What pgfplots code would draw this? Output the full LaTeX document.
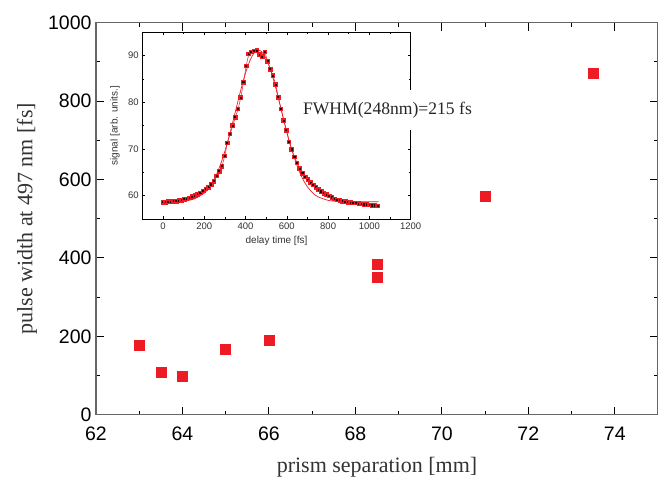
\documentclass[border=0pt]{standalone}
\usepackage{fontspec}
\setmainfont{Liberation Serif}
\setsansfont{Liberation Sans}
\usepackage{pgfplots}
\pgfplotsset{compat=1.18}
\usetikzlibrary{calc}
\definecolor{ptred}{RGB}{237,28,36}

\begin{document}
\begin{tikzpicture}
% main plot: pulse width vs prism separation
\begin{axis}[
  name=main,
  scale only axis,
  width=562pt, height=392pt,
  xmin=62, xmax=75, ymin=0, ymax=1000,
  xtick={62,64,...,74}, ytick={0,200,...,1000},
  minor x tick num=1, minor y tick num=1,
  tick align=inside,
  major tick length=8pt, minor tick length=4pt,
  axis line style={black!60, line width=1.1pt},
  tick style={black, line width=0.9pt},
  ticklabel style={font=\fontsize{19.5}{22}\sffamily},
  xticklabel style={yshift=-9pt},
  yticklabel style={xshift=-1pt},
  /pgf/number format/assume math mode=true,
  /pgf/number format/set thousands separator={},
  xlabel={prism separation [mm]},
  ylabel={pulse width at 497 nm [fs]},
  label style={font=\fontsize{22}{26}\selectfont, text=black!80},
  xlabel style={at={(axis description cs:0.5,-0.1327)}, anchor=center},
  ylabel style={at={(axis description cs:-0.1228,0.5)}, anchor=center},
]
\addplot[only marks, mark=square*, mark size=5pt, color=ptred] coordinates {
  (63,177) (63.5,109) (64,98) (65,166) (66,190)
  (68.5,383) (68.5,350) (71,558) (73.5,872)
};
\end{axis}

% inset: autocorrelation trace
\begin{axis}[
  at={($(main.south west)+(46.3pt,195.7pt)$)}, anchor=south west,
  scale only axis,
  width=268.4pt, height=186.6pt,
  xmin=-100, xmax=1200, ymin=55, ymax=95,
  xtick={0,200,...,1200}, ytick={60,70,80,90},
  minor x tick num=1, minor y tick num=1,
  tick align=inside,
  major tick length=3pt, minor tick length=1.8pt,
  axis background/.style={fill=white},
  axis line style={black, line width=0.7pt},
  tick style={black, line width=0.6pt},
  ticklabel style={font=\fontsize{9.5}{11}\sffamily, text=black!80},
  /pgf/number format/assume math mode=true,
  /pgf/number format/set thousands separator={},
  xlabel={delay time [fs]},
  ylabel={signal [arb. units.]},
  label style={font=\fontsize{10}{12}\sffamily, text=black!80},
  xlabel style={at={(axis description cs:0.5,-0.12)}, anchor=center},
  ylabel style={at={(axis description cs:-0.1017,0.5)}, anchor=center},
]
\addplot[color=ptred, line width=0.5pt, mark=square*, mark size=1.7pt,
  mark options={draw=ptred, line width=1.3pt, fill=black!85!red}] coordinates {
  (0,58.6) (13,58.6) (26,58.7) (39,58.7) (52,58.8) (65,58.8) (78,58.9)
  (91,59.0) (104,59.2) (117,59.3) (130,59.5) (143,59.8) (156,60.0)
  (169,60.3) (182,60.6) (195,61.0) (208,61.4) (221,61.8) (234,62.4)
  (247,63.1) (260,64.2) (273,65.2) (286,66.3) (299,68.5) (312,71.3)
  (325,73.2) (338,75.0) (351,76.8) (364,78.6) (377,81.0) (390,84.3)
  (403,87.8) (416,90.4) (429,90.8) (442,91.0) (455,91.1) (468,90.2)
  (481,89.8) (494,90.8) (507,88.8) (520,87.1) (533,85.7) (546,83.8)
  (559,81.1) (572,78.6) (585,76.1) (598,74.0) (611,71.5) (624,69.9)
  (637,68.3) (650,67.0) (663,65.8) (676,64.8) (689,64.0) (702,63.4)
  (715,62.8) (728,62.3) (741,61.8) (754,61.3) (767,60.9) (780,60.5)
  (793,60.2) (806,59.9) (819,59.6) (832,59.3) (845,59.1) (858,59.0)
  (871,58.8) (884,58.7) (897,58.6) (910,58.5) (923,58.4) (936,58.4)
  (949,58.3) (962,58.2) (975,58.1) (988,58.1) (1001,58.0) (1014,57.9)
  (1027,57.9) (1040,57.8)
};
% fitted curve
\addplot[color=ptred, line width=0.7pt, smooth] coordinates {
  (0,58.70) (50,58.73) (100,58.84) (150,59.27) (200,60.57) (225,61.83)
  (250,63.67) (275,66.24) (300,69.54) (325,73.49) (350,77.88) (375,82.30)
  (400,86.29) (425,89.32) (450,91.08) (463,91.20) (475,91.00) (500,89.41)
  (525,86.43) (550,82.46) (575,78.06) (600,73.65) (625,69.70) (650,66.37)
  (675,63.77) (700,61.89) (725,60.60) (750,59.78) (800,59.00) (850,58.77)
  (900,58.70) (1045,58.70)
};
\end{axis}

\node[fill=white, inner xsep=3pt, inner ysep=12pt,
  font=\fontsize{17.6}{20}\selectfont, text=black!85]
  at ($(main.south west)+(291.5pt,305pt)$) {FWHM(248nm)=215 fs};

\pgfresetboundingbox
\path ($(main.south west)+(-96pt,-62pt)$) rectangle ($(main.north east)+(0pt,22.7pt)$);
\end{tikzpicture}
\end{document}
